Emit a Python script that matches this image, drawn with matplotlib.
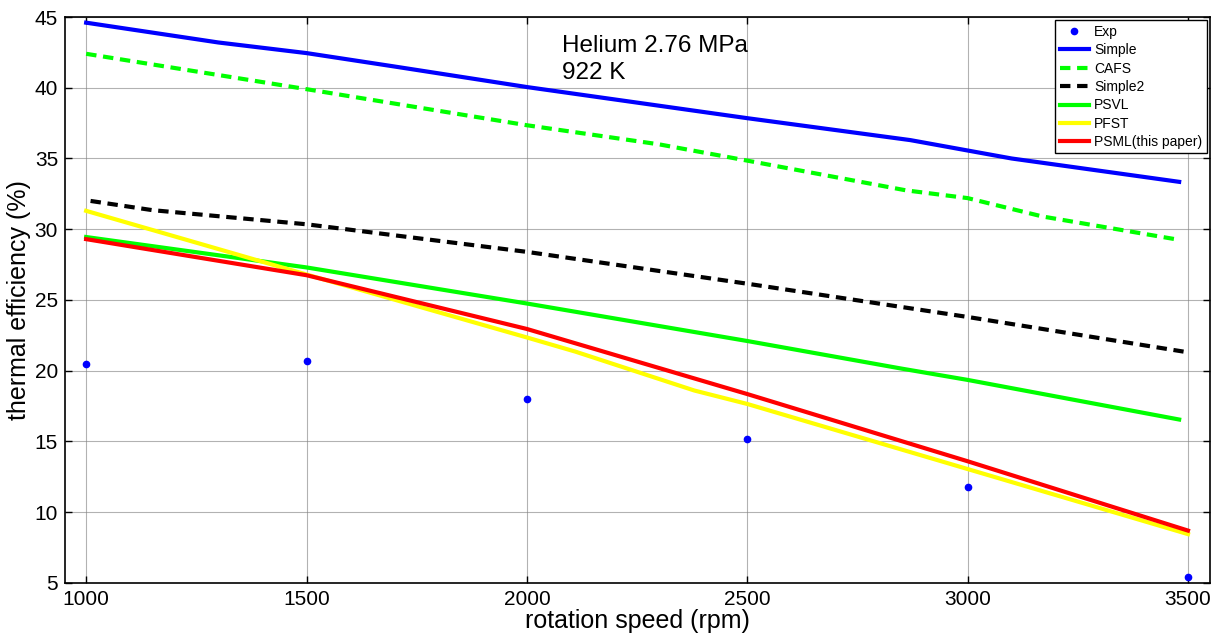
import matplotlib.pyplot as plt

plt.rcParams['font.family'] = ['Liberation Sans', 'DejaVu Sans']

# Experimental points
exp_rpm = [1000, 1500, 2000, 2500, 3000, 3500]
exp_eff = [20.5, 20.7, 18.0, 15.2, 11.8, 5.45]

# Model curves
simple_rpm = [1000, 1300, 1500, 1700, 2000, 2500, 2870, 3100, 3480]
simple_eff = [44.6, 43.2, 42.45, 41.5, 40.05, 37.85, 36.3, 35.0, 33.35]

cafs_rpm = [1000, 1500, 2000, 2300, 2500, 2860, 3000, 3170, 3480]
cafs_eff = [42.4, 39.9, 37.35, 36.0, 34.85, 32.75, 32.2, 30.9, 29.25]

simple2_rpm = [1010, 1150, 1500, 2000, 2500, 3000, 3490]
simple2_eff = [32.0, 31.35, 30.35, 28.4, 26.15, 23.8, 21.35]

psvl_rpm = [1000, 1500, 2000, 2500, 2850, 3000, 3480]
psvl_eff = [29.45, 27.3, 24.75, 22.1, 20.15, 19.35, 16.55]

pfst_rpm = [1000, 1500, 2000, 2110, 2380, 2500, 3000, 3500]
pfst_eff = [31.3, 26.8, 22.35, 21.35, 18.6, 17.65, 13.05, 8.45]

psml_rpm = [1000, 1500, 2000, 2500, 3000, 3500]
psml_eff = [29.3, 26.75, 22.95, 18.35, 13.6, 8.7]

fig = plt.figure(figsize=(12.15, 6.35), dpi=100)
ax = fig.add_axes([0.0535, 0.082, 0.9424, 0.8912])

lw = 3
ax.plot(exp_rpm, exp_eff, '.', color='#0000ff', markersize=9, label='Exp')
ax.plot(simple_rpm, simple_eff, '-', color='#0000ff', lw=lw, label='Simple')
ax.plot(cafs_rpm, cafs_eff, '--', color='#00ff00', lw=lw, dashes=(2.5, 1.6), label='CAFS')
ax.plot(simple2_rpm, simple2_eff, '--', color='black', lw=lw, dashes=(2.5, 1.6), label='Simple2')
ax.plot(psvl_rpm, psvl_eff, '-', color='#00ff00', lw=lw, label='PSVL')
ax.plot(pfst_rpm, pfst_eff, '-', color='#ffff00', lw=lw, label='PFST')
ax.plot(psml_rpm, psml_eff, '-', color='#ff0000', lw=lw, label='PSML(this paper)')

ax.set_xlim(952, 3550)
ax.set_ylim(5, 45)
ax.set_xticks(range(1000, 3501, 500))
ax.set_yticks(range(5, 46, 5))
ax.tick_params(direction='in', length=5, width=1, labelsize=15, pad=5,
               top=True, right=True)
ax.grid(True, color='#808080', lw=0.8, alpha=0.6)
for s in ax.spines.values():
    s.set_linewidth(1.2)

ax.set_xlabel('rotation speed (rpm)', fontsize=18, labelpad=0)
ax.set_ylabel('thermal efficiency (%)', fontsize=18, labelpad=3)

ax.text(2080, 43.75, 'Helium 2.76 MPa\n922 K', fontsize=17.5, va='top', ha='left',
        linespacing=1.3)

leg = ax.legend(loc='upper right', fontsize=10, handlelength=2.15, handletextpad=0.35,
                borderaxespad=0.25, labelspacing=0.32, fancybox=False, framealpha=1,
                edgecolor='black', borderpad=0.3)
leg.get_frame().set_linewidth(1)

fig.savefig('out.png', dpi=100)
